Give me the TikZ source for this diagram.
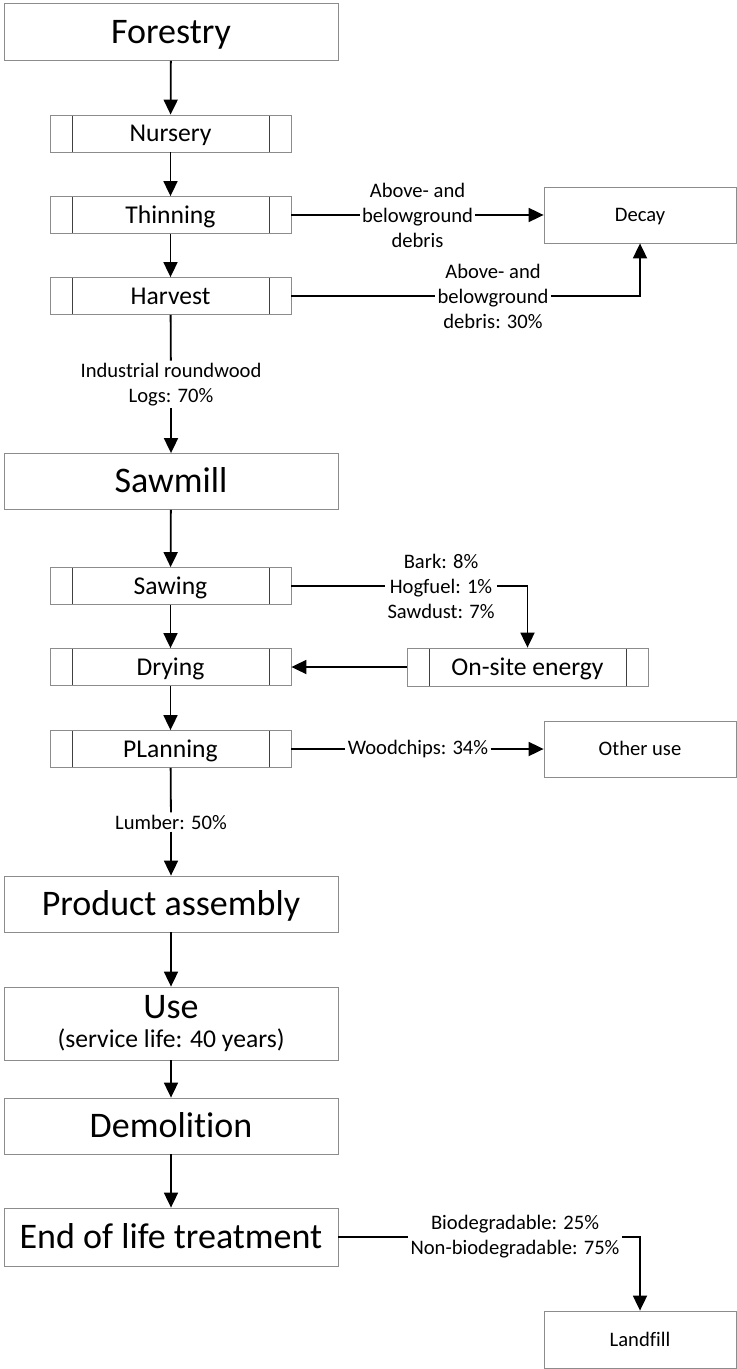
\documentclass[tikz,border=0pt]{standalone}
\definecolor{boxgray}{rgb}{0.55,0.55,0.55}
\usepackage{fontspec}
\setmainfont{Carlito}[Ligatures=CommonOff]
\usepackage{tikz}
\usetikzlibrary{arrows.meta,positioning}

\begin{document}
\begin{tikzpicture}[x=0.5pt,y=-0.5pt,
      bigbox/.style={draw=boxgray, fill=white, minimum width=167pt,
                  minimum height=28.5pt, inner sep=1pt,
                  font=\fontsize{18}{21}\selectfont},
      stage/.style={bigbox, text height=11.4pt, text depth=0pt},
      proc/.style={draw=boxgray, fill=white, minimum width=120.5pt,
                  minimum height=18.5pt, inner sep=1pt,
                  text height=8.1pt, text depth=0pt,
                  font=\fontsize{12.8}{15}\selectfont,
                  path picture={
                    \draw[black!75] ([xshift=11pt]path picture bounding box.north west)
                      -- ([xshift=11pt]path picture bounding box.south west);
                    \draw[black!75] ([xshift=-11pt]path picture bounding box.north east)
                      -- ([xshift=-11pt]path picture bounding box.south east);}},
      sink/.style={draw=boxgray, fill=white, minimum width=96pt,
                  minimum height=28pt, text height=6.5pt, text depth=0pt,
                  font=\fontsize{10.3}{12.5}\selectfont},
      flow/.style={fill=white, inner sep=1pt, align=center,
                  font=\fontsize{10.3}{12.5}\selectfont},
      arr/.style={-{Triangle[length=7.5pt,width=7pt]}, line width=0.9pt},
      ln/.style={line width=0.9pt}
  ]
    \useasboundingbox (0,0) rectangle (737,1369);
    % forestry
    \node[stage] (forestry) at (171,32) {Forestry};
    \node[proc]  (nursery)  at (170.5,133.5) {Nursery};
    \node[proc]  (thinning) at (170.5,215) {Thinning};
    \node[proc]  (harvest)  at (170.5,296) {Harvest};
    \node[sink]  (decay)    at (640,215) {Decay};
    \node[flow]  (lthin) at (417.5,215) {Above- and\\belowground\\debris};
    \node[flow]  (lharv) at (493,296) {Above- and\\belowground\\debris: 30\%};
    \node[flow]  (llogs) at (171,384.5) {Industrial roundwood\\Logs: 70\%};
    % sawmill
    \node[stage, minimum height=28pt] (sawmill) at (171,481.5) {Sawmill};
    \node[proc]  (sawing)   at (170.5,586) {Sawing};
    \node[proc]  (drying)   at (170.5,667) {Drying};
    \node[proc]  (planning) at (170.5,749) {PLanning};
    \node[proc, minimum height=19pt] (onsite) at (527.5,667) {On-site energy};
    \node[sink]  (otheruse) at (640,749) {Other use};
    \node[flow]  (lsaw)   at (441,586) {Bark: 8\%\\Hogfuel: 1\%\\Sawdust: 7\%};
    \node[flow]  (lchips) at (418,749) {Woodchips: 34\%};
    \node[flow]  (llumber) at (171,822) {Lumber: 50\%};
    % product and end of life
    \node[stage, minimum height=28pt] (product) at (171,904) {Product assembly};
    \node[bigbox, align=center, minimum height=36.5pt] (use) at (171,1023.5)
      {Use\\[-6.5pt]\fontsize{12.8}{15}\selectfont (service life: 40 years)};
    \node[stage, minimum height=28pt] (demolition) at (171,1126) {Demolition};
    \node[stage, minimum height=29pt] (eol) at (171,1237) {End of life treatment};
    \node[sink, minimum height=28.5pt] (landfill) at (640,1339.5) {Landfill};
    \node[flow]  (leol) at (515,1237) {Biodegradable: 25\%\\Non-biodegradable: 75\%};

    \draw[arr] (forestry) -- (nursery);
    \draw[arr] (nursery) -- (thinning);
    \draw[arr] (thinning) -- (harvest);
    \draw[ln]  (thinning) -- (lthin);
    \draw[arr] (lthin) -- (decay);
    \draw[ln]  (harvest) -- (lharv);
    \draw[arr] (lharv) -| (decay);
    \draw[ln]  (harvest) -- (llogs);
    \draw[arr] (llogs) -- (sawmill);
    \draw[arr] (sawmill) -- (sawing);
    \draw[arr] (sawing) -- (drying);
    \draw[arr] (drying) -- (planning);
    \draw[ln]  (sawing) -- (lsaw);
    \draw[arr] (lsaw) -| (onsite);
    \draw[arr] (onsite) -- (drying);
    \draw[ln]  (planning) -- (lchips);
    \draw[arr] (lchips) -- (otheruse);
    \draw[ln]  (planning) -- (llumber);
    \draw[arr] (llumber) -- (product);
    \draw[arr] (product) -- (use);
    \draw[arr] (use) -- (demolition);
    \draw[arr] (demolition) -- (eol);
    \draw[ln]  (eol) -- (leol);
    \draw[arr] (leol) -| (landfill);
  \end{tikzpicture}
\end{document}
